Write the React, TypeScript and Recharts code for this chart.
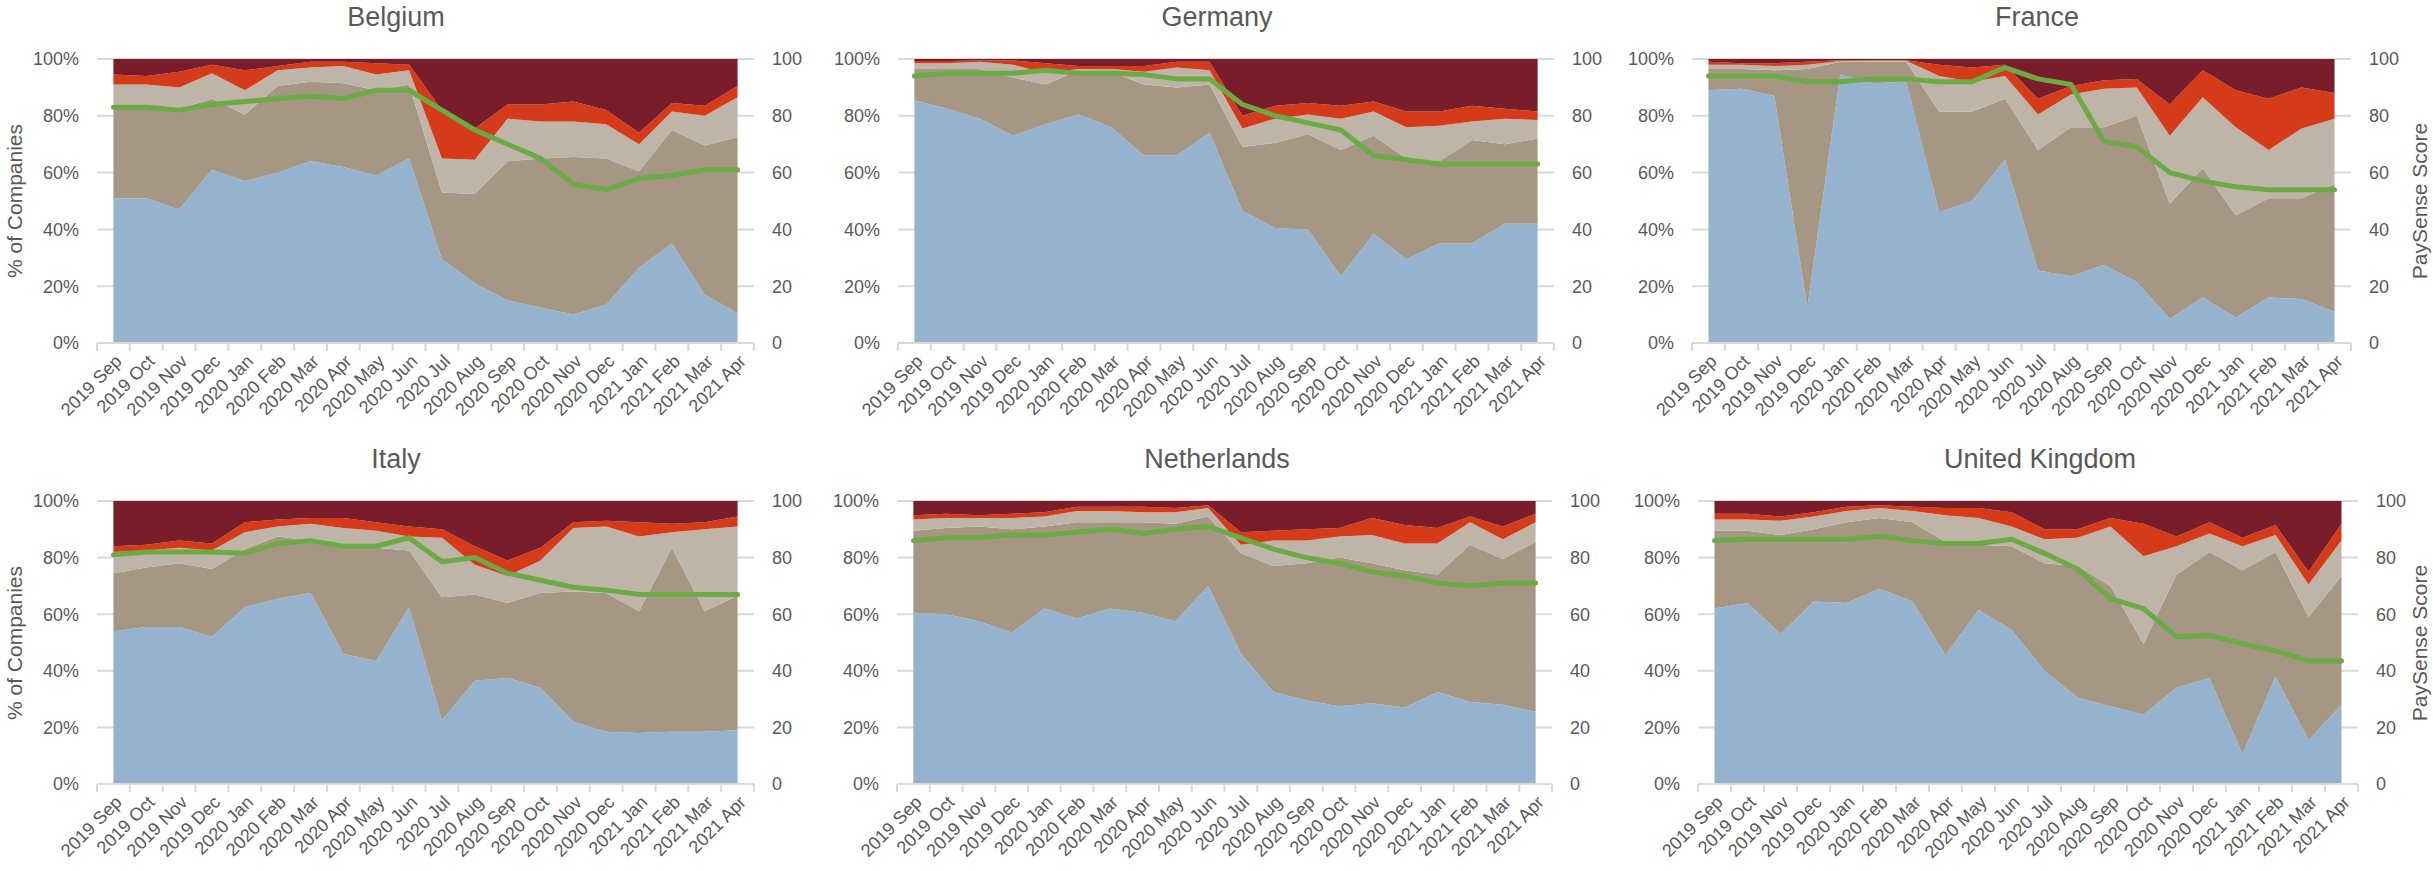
import React from 'react';
import { ComposedChart, Area, Line, XAxis, YAxis, CartesianGrid } from 'recharts';

const months = [
  '2019 Sep', '2019 Oct', '2019 Nov', '2019 Dec', '2020 Jan', '2020 Feb', '2020 Mar',
  '2020 Apr', '2020 May', '2020 Jun', '2020 Jul', '2020 Aug', '2020 Sep', '2020 Oct',
  '2020 Nov', '2020 Dec', '2021 Jan', '2021 Feb', '2021 Mar', '2021 Apr',
];
const pctTicks = [0, 20, 40, 60, 80, 100];

// Belgium
const beBlue = [51, 51, 47, 61, 57, 60, 64, 62, 59, 65, 29.5, 21, 15, 12.5, 10, 13.5, 26.5, 35, 17, 10.5];
const beTaupe = [31.5, 31.5, 35.5, 25, 23.5, 30.5, 28, 29.5, 30, 26, 23.5, 31.5, 49, 52.5, 55.5, 51.5, 34, 40, 52.5, 62];
const beBeige = [8.5, 8.5, 7.5, 9, 8.5, 5.5, 5, 6, 5.5, 5, 12, 12, 15, 13, 12.5, 12, 9.5, 6.5, 10.5, 14];
const beOrange = [3.5, 3, 5.5, 3, 7, 1.5, 2, 1.5, 4, 2, 17, 11, 5, 6, 7, 5, 4, 3, 3.5, 4];
const beMaroon = [5.5, 6, 4.5, 2, 4, 2.5, 1, 1, 1.5, 2, 18, 24.5, 16, 16, 15, 18, 26, 15.5, 16.5, 9.5];
const beScore = [83, 83, 82, 84, 85, 86, 87, 86, 89, 89, 82, 75, 70, 65, 56, 54, 58, 59, 61, 61];

// Germany
const deBlue = [85.5, 82.5, 79, 73, 77, 80.5, 76, 66, 66, 74, 46.5, 40.5, 40, 23.5, 38.5, 29.5, 35, 35, 42, 42];
const deTaupe = [11, 14, 17.5, 20.5, 14, 15.5, 19.5, 25, 24, 17, 22.5, 30, 33.5, 44.5, 34.5, 35.5, 29, 36.5, 28, 30];
const deBeige = [2, 2, 2.5, 4.5, 4, 0.5, 1, 4.5, 7, 5, 6.5, 8.5, 7, 11, 8.5, 11, 12.5, 6.5, 9, 6.5];
const deOrange = [0.8, 0.8, 0.5, 1.5, 3.5, 1, 1, 2, 2, 3, 4.5, 4.5, 4, 4.5, 3.5, 5.5, 5, 5.5, 3.5, 3];
const deMaroon = [0.7, 0.7, 0.5, 0.5, 1.5, 2.5, 2.5, 2.5, 1, 1, 20, 16.5, 15.5, 16.5, 15, 18.5, 18.5, 16.5, 17.5, 18.5];
const deScore = [94, 95, 95, 95, 96, 95, 95, 94.5, 93, 93, 84, 80, 77.5, 75, 66, 64.5, 63, 63, 63, 63];

// France
const frBlue = [89, 89.5, 87, 12.5, 94.5, 91.5, 92, 46, 50, 64.5, 25.5, 23.5, 27.5, 21.5, 8.5, 16, 9, 16, 15.5, 11];
const frTaupe = [7.5, 7, 9, 84, 4.5, 7.5, 7, 35.5, 31.5, 21.5, 42.5, 52.5, 48.5, 58.5, 40.5, 45.5, 36, 35, 35.5, 45];
const frBeige = [1.5, 1.5, 1.5, 1.5, 0.3, 0.4, 0.4, 12.5, 10.5, 8, 12.5, 11.5, 13.5, 10, 24, 25, 31, 17, 24.5, 23];
const frOrange = [1, 0.5, 1, 1, 0.3, 0.2, 0.2, 4, 5, 4, 5.5, 3, 3, 3, 11, 9.5, 13, 18, 14.5, 9];
const frMaroon = [1, 1.5, 1.5, 1, 0.4, 0.4, 0.4, 2, 3, 2, 14, 9.5, 7.5, 7, 16, 4, 11, 14, 10, 12];
const frScore = [94, 94, 94, 92, 92, 93, 93, 92, 92, 97, 93, 91, 71, 69, 60, 57, 55, 54, 54, 54];

// Italy
const itBlue = [54, 55.5, 55.5, 52, 62.5, 65.5, 67.5, 46, 43.5, 62.5, 22.5, 36.5, 37.5, 34, 22, 18.5, 18, 18.5, 18.5, 19];
const itTaupe = [20.5, 21, 22.5, 24, 20.5, 22, 18.5, 38, 40, 20, 43.5, 30.5, 26.5, 33.5, 46, 49, 43, 65, 42.5, 47.5];
const itBeige = [7.5, 6, 5.5, 6.5, 6, 3.5, 6, 6.5, 6, 5, 21, 10.5, 9.5, 11.5, 22.5, 23.5, 26.5, 5.5, 29, 24.5];
const itOrange = [2, 2, 2.5, 2.5, 3.5, 2.5, 2, 3.5, 3, 3.5, 3, 6.5, 5.5, 4.5, 2, 2, 5, 3, 2.5, 3.5];
const itMaroon = [16, 15.5, 14, 15, 7.5, 6.5, 6, 6, 7.5, 9, 10, 16, 21, 16.5, 7.5, 7, 7.5, 8, 7.5, 5.5];
const itScore = [81, 82, 82, 82, 81.5, 85, 86, 84, 84, 87, 78.5, 80, 74.5, 72, 69.5, 68.5, 67, 67, 67, 67];

// Netherlands
const nlBlue = [60.5, 60, 57.5, 53.5, 62, 58.5, 62, 60.5, 57.5, 70, 46, 32.5, 29.5, 27.5, 28.5, 27, 32.5, 29, 28, 25.5];
const nlTaupe = [29, 30.5, 33.5, 36.5, 29, 34, 30.5, 32, 34.5, 24.5, 35.5, 44.5, 48.5, 52.5, 49.5, 48.5, 41.5, 55.5, 51.5, 60];
const nlBeige = [4, 3.5, 3, 4, 3.5, 4, 4, 3.5, 4, 3, 3, 9, 8, 7.5, 10, 9.5, 11, 8, 7, 7];
const nlOrange = [1.5, 1.5, 1, 1.5, 1.5, 1.5, 1.5, 2, 1.5, 1, 4.5, 3.5, 4, 3, 6, 6.5, 5.5, 2, 4.5, 3];
const nlMaroon = [5, 4.5, 5, 4.5, 4, 2, 2, 2, 2.5, 1.5, 11, 10.5, 10, 9.5, 6, 8.5, 9.5, 5.5, 9, 4.5];
const nlScore = [86, 87, 87, 88, 88, 89, 90, 88.5, 90, 91, 87, 83, 80, 78, 75, 73.5, 71, 70, 71, 71];

// United Kingdom
const ukBlue = [62, 64, 53, 64.5, 64, 69, 64.5, 45.5, 61.5, 54.5, 40, 30.5, 27.5, 24.5, 34, 37.5, 10.5, 38, 15.5, 28];
const ukTaupe = [27.5, 25.5, 35, 25.5, 28.5, 25, 28, 40, 23, 29.5, 38, 46.5, 42.5, 25, 40, 44.5, 65, 44, 43.5, 45.5];
const ukBeige = [4, 4, 5, 4.5, 4, 3.5, 4, 9.5, 9.5, 7, 8.5, 10, 21, 31, 10, 6.5, 8.5, 6, 11.5, 12.5];
const ukOrange = [2, 2, 1.5, 1.5, 1.5, 1, 1.5, 2.5, 3.5, 5, 3.5, 3, 3, 11.5, 3.5, 4, 3, 3.5, 4.5, 6];
const ukMaroon = [4.5, 4.5, 5.5, 4, 2, 1.5, 2, 2.5, 2.5, 4, 10, 10, 6, 8, 12.5, 7.5, 13, 8.5, 25, 8];
const ukScore = [86, 86.5, 86.5, 86.5, 86.5, 87.5, 86, 85, 85, 86.5, 81.5, 76, 65.5, 62, 52, 52.5, 49.5, 47, 43.5, 43.5];

const FONT = '"Liberation Sans", Arial, sans-serif';
const TEXT = '#595959';
const GRID = '#D9D9D9';
const GREEN = '#6BAA45';
const LEFT_W = 97;
const RIGHT_W = 80;
const TOP_M = 20;
const XAXIS_H = 100;

const layers = [
  { key: 'blue', color: '#95B3CF' },
  { key: 'taupe', color: '#A69785' },
  { key: 'beige', color: '#BEB5A8' },
  { key: 'orange', color: '#D53B18' },
  { key: 'maroon', color: '#7A1D2A' },
];

interface PanelDef {
  title: string;
  left: number;
  top: number;
  width: number;
  height: number;
  titleX: number;
  titleY: number;
  leftTitle?: boolean;
  rightTitle?: boolean;
  series: number[][];
  score: number[];
}

const panels: PanelDef[] = [
  { title: 'Belgium', left: 97, top: 59, width: 657, height: 284, titleX: 396, titleY: 17, leftTitle: true,
    series: [beBlue, beTaupe, beBeige, beOrange, beMaroon], score: beScore },
  { title: 'Germany', left: 898, top: 59, width: 656, height: 284, titleX: 1217, titleY: 17,
    series: [deBlue, deTaupe, deBeige, deOrange, deMaroon], score: deScore },
  { title: 'France', left: 1692, top: 59, width: 659, height: 284, titleX: 2037, titleY: 17, rightTitle: true,
    series: [frBlue, frTaupe, frBeige, frOrange, frMaroon], score: frScore },
  { title: 'Italy', left: 97, top: 501, width: 657, height: 283, titleX: 396, titleY: 459, leftTitle: true,
    series: [itBlue, itTaupe, itBeige, itOrange, itMaroon], score: itScore },
  { title: 'Netherlands', left: 897, top: 501, width: 655, height: 283, titleX: 1217, titleY: 459,
    series: [nlBlue, nlTaupe, nlBeige, nlOrange, nlMaroon], score: nlScore },
  { title: 'United Kingdom', left: 1698, top: 501, width: 660, height: 283, titleX: 2040, titleY: 459, rightTitle: true,
    series: [ukBlue, ukTaupe, ukBeige, ukOrange, ukMaroon], score: ukScore },
];

const monthIdx = months.map((_, i) => i);

function MonthTick(props: any) {
  const { x, y, payload, half } = props;
  const i = payload.value as number;
  const tx = x + 5;
  const ty = y + 15;
  return (
    <g>
      {i === 0 && <line x1={x - half} y1={y} x2={x - half} y2={y + 8} stroke={GRID} strokeWidth={2} />}
      <line x1={x + half} y1={y} x2={x + half} y2={y + 8} stroke={GRID} strokeWidth={2} />
      <text x={tx} y={ty} dy="0.35em" textAnchor="end" fill={TEXT} fontSize={18} transform={`rotate(-45 ${tx} ${ty})`}>
        {months[i]}
      </text>
    </g>
  );
}

function rotatedTitle(text: string, cx: number, cy: number) {
  return (
    <div
      style={{
        position: 'absolute', left: cx, top: cy, transform: 'translate(-50%, -50%) rotate(-90deg)',
        fontSize: 21, color: TEXT, whiteSpace: 'nowrap', lineHeight: 1,
      }}
    >
      {text}
    </div>
  );
}

function Panel({ p }: { p: PanelDef }) {
  const data = months.map((m, i) => ({
    idx: i,
    month: m,
    blue: p.series[0][i],
    taupe: p.series[1][i],
    beige: p.series[2][i],
    orange: p.series[3][i],
    maroon: p.series[4][i],
    score: p.score[i],
  }));
  const W = LEFT_W + p.width + RIGHT_W;
  const H = TOP_M + p.height + XAXIS_H;
  const half = p.width / 40;
  const midY = p.top + p.height / 2;
  return (
    <>
      <div
        style={{
          position: 'absolute', left: p.titleX, top: p.titleY, transform: 'translate(-50%, -50%)',
          fontSize: 27, color: TEXT, whiteSpace: 'nowrap',
        }}
      >
        {p.title}
      </div>
      {p.leftTitle && rotatedTitle('% of Companies', 14, midY)}
      {p.rightTitle && rotatedTitle('PaySense Score', 2419, midY)}
      <div style={{ position: 'absolute', left: p.left - LEFT_W, top: p.top - TOP_M }}>
        <ComposedChart width={W} height={H} data={data} margin={{ top: TOP_M, right: 0, bottom: 0, left: 0 }}>
          <CartesianGrid vertical={false} stroke={GRID} strokeWidth={2} yAxisId="left" />
          <XAxis
            dataKey="idx"
            type="number"
            domain={[-0.5, 19.5]}
            ticks={monthIdx}
            interval={0}
            height={XAXIS_H}
            tickLine={false}
            tickSize={0}
            tickMargin={0}
            axisLine={{ stroke: GRID, strokeWidth: 2 }}
            tick={<MonthTick half={half} />}
          />
          <YAxis
            yAxisId="left"
            orientation="left"
            width={LEFT_W}
            domain={[0, 100]}
            ticks={pctTicks}
            tickFormatter={(v: number) => `${v}%`}
            axisLine={false}
            tickLine={false}
            tickSize={0}
            tickMargin={18}
            tick={{ fill: TEXT, fontSize: 18 }}
          />
          <YAxis
            yAxisId="right"
            orientation="right"
            width={RIGHT_W}
            domain={[0, 100]}
            ticks={pctTicks}
            axisLine={false}
            tickLine={false}
            tickSize={0}
            tickMargin={18}
            tick={{ fill: TEXT, fontSize: 18 }}
          />
          {layers.map((l) => (
            <Area
              key={l.key}
              yAxisId="left"
              type="linear"
              dataKey={l.key}
              stackId="share"
              stroke="none"
              fill={l.color}
              fillOpacity={1}
              isAnimationActive={false}
              activeDot={false}
            />
          ))}
          <Line
            yAxisId="right"
            type="linear"
            dataKey="score"
            stroke={GREEN}
            strokeWidth={5}
            strokeLinecap="round"
            strokeLinejoin="round"
            dot={false}
            activeDot={false}
            isAnimationActive={false}
          />
        </ComposedChart>
      </div>
    </>
  );
}

export default function App() {
  return (
    <div
      style={{
        position: 'absolute', left: 0, top: 0, width: 2433, height: 871, overflow: 'hidden',
        background: '#fff', fontFamily: FONT,
      }}
    >
      {panels.map((p) => (
        <Panel key={p.title} p={p} />
      ))}
    </div>
  );
}
